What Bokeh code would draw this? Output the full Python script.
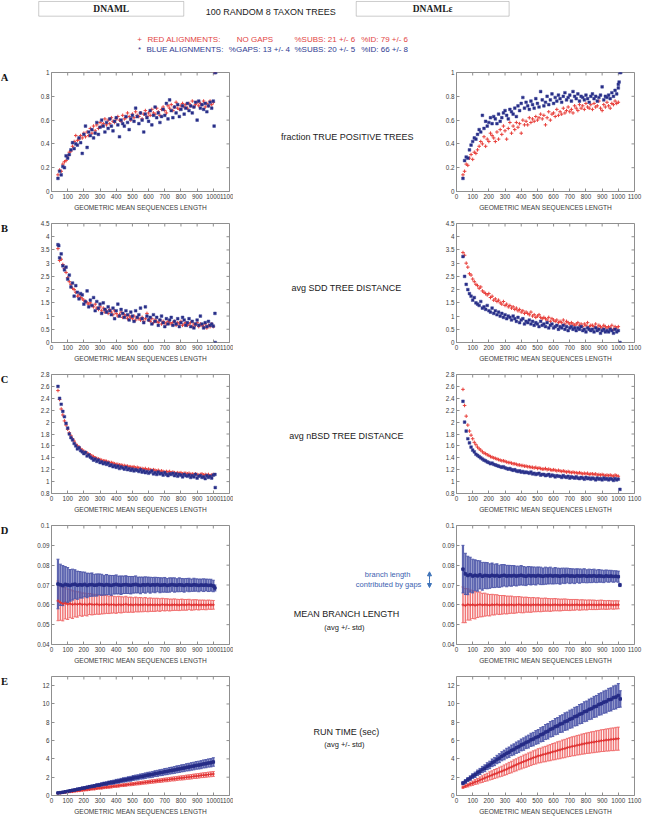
import math
from bokeh.plotting import figure
from bokeh.layouts import column, row
from bokeh.models import (Range1d, LinearAxis, FixedTicker, Label, ColumnDataSource,
                          Whisker, TeeHead, Arrow, NormalHead, BoxAnnotation)
from bokeh.embed import file_html
from bokeh.resources import INLINE

# ---------------- data ----------------
X_TICKS = [0, 100, 200, 300, 400, 500, 600, 700, 800, 900, 1000, 1100]
YT_A = [0, 0.2, 0.4, 0.6, 0.8, 1]
YL_A = ["0", "0.2", "0.4", "0.6", "0.8", "1"]
YT_B = [0, 0.5, 1, 1.5, 2, 2.5, 3, 3.5, 4, 4.5]
YL_B = ["0", "0.5", "1", "1.5", "2", "2.5", "3", "3.5", "4", "4.5"]
YT_C = [0.8, 1, 1.2, 1.4, 1.6, 1.8, 2, 2.2, 2.4, 2.6, 2.8]
YL_C = ["0.8", "1", "1.2", "1.4", "1.6", "1.8", "2", "2.2", "2.4", "2.6", "2.8"]
YT_D = [0.04, 0.05, 0.06, 0.07, 0.08, 0.09, 0.1]
YL_D = ["0.04", "0.05", "0.06", "0.07", "0.08", "0.09", "0.1"]
YT_E = [0, 2, 4, 6, 8, 10, 12]
YL_E = ["0", "2", "4", "6", "8", "10", "12"]

XS = [40, 50, 60, 70, 80, 90, 100, 110, 120, 130,
      140, 150, 160, 170, 180, 190, 200, 210, 220, 230,
      240, 250, 260, 270, 280, 290, 300, 310, 320, 330,
      340, 350, 360, 370, 380, 390, 400, 410, 420, 430,
      440, 450, 460, 470, 480, 490, 500, 510, 520, 530,
      540, 550, 560, 570, 580, 590, 600, 610, 620, 630,
      640, 650, 660, 670, 680, 690, 700, 710, 720, 730,
      740, 750, 760, 770, 780, 790, 800, 810, 820, 830,
      840, 850, 860, 870, 880, 890, 900, 910, 920, 930,
      940, 950, 960, 970, 980, 990, 1000]

A_L_BLUE = [.11, .17, .14, .21, .20, .30, .28, .31, .35, .41,
            .36, .40, .39, .45, .41, .32, .48, .55, .37, .50,
            .47, .52, .45, .49, .58, .48, .54, .60, .55, .50,
            .58, .53, .61, .55, .51, .59, .62, .56, .46, .60,
            .57, .55, .63, .58, .52, .61, .64, .59, .70, .63,
            .57, .66, .60, .50, .65, .62, .59, .68, .56, .64,
            .71, .62, .66, .58, .63, .69, .64, .74, .61, .77,
            .68, .62, .71, .66, .73, .63, .69, .72, .65, .70,
            .74, .68, .72, .66, .71, .75, .60, .76, .70, .73,
            .69, .74, .67, .72, .75, .70, .76]
A_L_RED = [.14, .18, .17, .23, .25, .26, .30, .33, .34, .38,
           .42, .47, .43, .44, .47, .45, .49, .46, .50, .47,
           .53, .49, .55, .51, .56, .53, .58, .55, .57, .61,
           .56, .60, .57, .62, .59, .58, .61, .63, .60, .59,
           .64, .61, .62, .66, .63, .60, .65, .62, .67, .64,
           .63, .66, .61, .65, .68, .63, .66, .64, .69, .66,
           .65, .70, .67, .64, .69, .71, .68, .66, .72, .70,
           .73, .68, .71, .75, .70, .69, .72, .74, .71, .73,
           .70, .74, .72, .76, .71, .73, .75, .72, .74, .73,
           .76, .71, .74, .72, .76, .73, .75]
A_L_BLUE_XX = [1005, 1010, 1015]
A_L_BLUE_XY = [0.55, 1.0, 1.0]
A_L_RED_XX = [1010]
A_L_RED_XY = [1.0]

A_R_BLUE = [.11, .26, .29, .28, .35, .39, .42, .45, .44, .48,
            .52, .50, .64, .53, .59, .55, .58, .62, .57, .63,
            .61, .57, .65, .59, .62, .66, .68, .64, .61, .69,
            .67, .65, .70, .63, .72, .68, .74, .79, .70, .75,
            .72, .69, .76, .73, .70, .78, .74, .71, .84, .77,
            .72, .75, .80, .73, .77, .82, .74, .79, .76, .81,
            .78, .75, .80, .83, .77, .79, .81, .76, .84, .80,
            .78, .82, .76, .80, .79, .77, .81, .78, .75, .80,
            .82, .78, .80, .76, .79, .81, .88, .77, .80, .79,
            .81, .78, .83, .80, .85, .82, .87]
A_R_RED = [.14, .17, .23, .22, .28, .31, .27, .33, .32, .35,
           .38, .42, .40, .46, .38, .44, .42, .49, .47, .45,
           .42, .50, .44, .52, .48, .55, .51, .44, .53, .58,
           .49, .55, .52, .58, .54, .57, .49, .60, .56, .59,
           .56, .62, .58, .61, .59, .63, .60, .62, .65, .61,
           .64, .56, .62, .67, .60, .65, .66, .63, .69, .64,
           .67, .65, .70, .66, .68, .71, .67, .69, .66, .72,
           .70, .68, .73, .70, .72, .69, .74, .71, .70, .73,
           .69, .74, .71, .72, .76, .70, .68, .73, .71, .75,
           .72, .70, .74, .73, .76, .74, .75]
A_R_BLUE_XX = [1000, 1005, 1010, 1015]
A_R_BLUE_XY = [0.90, 0.92, 1.0, 1.0]

B_L_BLUE = [3.70, 3.20, 3.35, 2.90, 2.75, 2.85, 2.40, 2.55, 2.10, 2.25,
            1.75, 2.15, 1.90, 1.65, 1.85, 1.80, 1.45, 1.55, 1.95, 1.35,
            1.60, 1.40, 1.70, 1.20, 1.55, 1.30, 1.45, 1.10, 1.50, 1.25,
            1.15, 1.35, 1.20, 1.05, 1.30, 0.90, 1.20, 1.45, 1.00, 1.25,
            1.10, 0.95, 1.20, 1.05, 0.85, 1.15, 1.00, 0.80, 1.20, 0.95,
            1.05, 1.30, 0.90, 0.75, 1.35, 1.00, 0.85, 0.95, 0.70, 1.05,
            0.80, 0.95, 0.65, 0.85, 1.00, 0.75, 0.60, 0.90, 0.70, 0.85,
            0.95, 0.65, 0.80, 0.70, 0.90, 0.60, 0.75, 0.95, 0.85, 0.65,
            0.75, 0.90, 0.60, 0.80, 0.55, 0.70, 0.85, 0.65, 1.00, 0.70,
            0.55, 0.75, 0.60, 0.80, 0.65, 0.70, 0.62]
B_L_RED = [3.55, 3.10, 3.15, 2.95, 2.80, 2.65, 2.45, 2.30, 2.20, 2.05,
           2.00, 1.90, 1.75, 1.80, 1.70, 1.65, 1.60, 1.55, 1.50, 1.45,
           1.50, 1.40, 1.35, 1.45, 1.30, 1.25, 1.35, 1.20, 1.30, 1.15,
           1.20, 1.10, 1.25, 1.15, 1.05, 1.20, 1.10, 1.00, 1.05, 1.15,
           0.95, 1.05, 1.00, 0.90, 1.00, 0.95, 0.90, 1.00, 0.85, 0.95,
           0.90, 0.85, 0.95, 0.80, 0.90, 1.10, 0.85, 0.80, 0.90, 0.75,
           0.85, 0.80, 0.75, 0.85, 0.70, 0.80, 0.75, 0.70, 0.80, 0.75,
           0.70, 0.75, 0.80, 0.65, 0.75, 0.70, 0.80, 0.65, 0.70, 0.75,
           0.65, 0.70, 0.75, 0.60, 0.70, 0.65, 0.75, 0.60, 0.70, 0.65,
           0.60, 0.70, 0.55, 0.65, 0.60, 0.70, 0.60]
B_L_BLUE_XX = [45, 1010, 1012]
B_L_BLUE_XY = [3.66, 1.10, 0.0]

B_R_RED = [3.40, 3.30, 3.00, 2.85, 2.60, 2.55, 2.40, 2.30, 2.20, 2.15,
           2.05, 2.10, 1.95, 1.90, 1.85, 1.80, 1.85, 1.70, 1.75, 1.60,
           1.65, 1.55, 1.60, 1.50, 1.45, 1.55, 1.40, 1.45, 1.35, 1.40,
           1.30, 1.35, 1.25, 1.30, 1.20, 1.25, 1.15, 1.20, 1.10, 1.15,
           1.10, 1.05, 1.15, 1.00, 1.05, 0.95, 1.00, 1.05, 0.95, 0.90,
           0.95, 0.90, 0.85, 0.95, 0.80, 0.90, 0.85, 0.80, 0.85, 0.75,
           0.80, 0.75, 0.85, 0.70, 0.80, 0.75, 0.70, 0.75, 0.70, 0.65,
           0.70, 0.75, 0.65, 0.70, 0.60, 0.70, 0.65, 0.75, 0.60, 0.65,
           0.65, 0.60, 0.70, 0.55, 0.65, 0.60, 0.55, 0.65, 0.60, 0.55,
           0.60, 0.55, 0.65, 0.50, 0.60, 0.55, 0.60]
B_R_BLUE = [3.25, 2.50, 2.20, 2.00, 1.85, 1.75, 1.60, 1.70, 1.50, 1.45,
            1.40, 1.55, 1.30, 1.35, 1.25, 1.40, 1.20, 1.15, 1.30, 1.10,
            1.20, 1.05, 1.15, 1.00, 1.10, 0.95, 1.05, 0.90, 1.00, 0.95,
            0.85, 1.00, 0.90, 0.80, 0.95, 0.75, 0.85, 0.90, 0.70, 0.80,
            0.75, 0.85, 0.70, 0.80, 0.65, 0.75, 0.70, 0.60, 0.80, 0.65,
            0.70, 0.60, 0.75, 0.55, 0.65, 0.70, 0.55, 0.60, 0.65, 0.50,
            0.60, 0.55, 0.65, 0.50, 0.60, 0.45, 0.55, 0.60, 0.50, 0.55,
            0.45, 0.55, 0.50, 0.60, 0.45, 0.50, 0.40, 0.55, 0.50, 0.45,
            0.50, 0.40, 0.55, 0.45, 0.50, 0.35, 0.45, 0.50, 0.40, 0.45,
            0.40, 0.50, 0.45, 0.35, 0.50, 0.40, 0.45]
B_R_BLUE_XX = [1010]
B_R_BLUE_XY = [0.0]

C_L_RED = [2.53, 2.38, 2.22, 2.12, 2.02, 1.95, 1.88, 1.82, 1.77, 1.72,
           1.68, 1.63, 1.60, 1.58, 1.55, 1.53, 1.51, 1.49, 1.48, 1.46,
           1.45, 1.43, 1.42, 1.40, 1.39, 1.38, 1.37, 1.36, 1.35, 1.35,
           1.34, 1.33, 1.32, 1.32, 1.31, 1.30, 1.29, 1.29, 1.28, 1.28,
           1.27, 1.27, 1.26, 1.26, 1.25, 1.25, 1.24, 1.25, 1.23, 1.24,
           1.23, 1.22, 1.22, 1.21, 1.22, 1.20, 1.21, 1.20, 1.19, 1.20,
           1.19, 1.18, 1.19, 1.17, 1.18, 1.17, 1.16, 1.17, 1.16, 1.17,
           1.15, 1.16, 1.15, 1.14, 1.15, 1.14, 1.15, 1.13, 1.14, 1.14,
           1.13, 1.14, 1.12, 1.13, 1.12, 1.13, 1.12, 1.11, 1.12, 1.13,
           1.11, 1.12, 1.11, 1.12, 1.10, 1.11, 1.12]
C_L_BLUE = [2.60, 2.40, 2.30, 2.18, 2.09, 1.98, 1.90, 1.80, 1.74, 1.70,
            1.64, 1.60, 1.55, 1.57, 1.52, 1.50, 1.47, 1.49, 1.43, 1.45,
            1.41, 1.39, 1.36, 1.38, 1.34, 1.36, 1.32, 1.33, 1.30, 1.32,
            1.29, 1.31, 1.27, 1.28, 1.25, 1.27, 1.24, 1.26, 1.22, 1.25,
            1.23, 1.21, 1.24, 1.20, 1.22, 1.19, 1.21, 1.18, 1.20, 1.19,
            1.17, 1.20, 1.16, 1.18, 1.15, 1.17, 1.14, 1.16, 1.18, 1.13,
            1.15, 1.12, 1.16, 1.13, 1.14, 1.11, 1.15, 1.12, 1.10, 1.13,
            1.12, 1.14, 1.10, 1.13, 1.09, 1.12, 1.11, 1.08, 1.12, 1.10,
            1.09, 1.11, 1.07, 1.10, 1.08, 1.12, 1.06, 1.09, 1.10, 1.07,
            1.08, 1.05, 1.10, 1.07, 1.09, 1.06, 1.11]
C_L_BLUE_XX = [1010, 1012]
C_L_BLUE_XY = [1.12, 0.90]

C_R_RED = [2.55, 2.28, 2.10, 1.95, 1.85, 1.78, 1.72, 1.66, 1.62, 1.58,
           1.55, 1.53, 1.50, 1.48, 1.47, 1.45, 1.44, 1.42, 1.41, 1.40,
           1.39, 1.38, 1.37, 1.36, 1.35, 1.35, 1.34, 1.33, 1.32, 1.32,
           1.31, 1.30, 1.30, 1.29, 1.28, 1.28, 1.27, 1.27, 1.26, 1.26,
           1.25, 1.25, 1.24, 1.24, 1.23, 1.24, 1.22, 1.23, 1.22, 1.21,
           1.21, 1.22, 1.20, 1.21, 1.20, 1.19, 1.20, 1.19, 1.18, 1.19,
           1.18, 1.17, 1.18, 1.17, 1.16, 1.17, 1.16, 1.15, 1.16, 1.15,
           1.15, 1.14, 1.15, 1.14, 1.13, 1.14, 1.13, 1.14, 1.12, 1.13,
           1.13, 1.12, 1.13, 1.11, 1.12, 1.11, 1.12, 1.11, 1.10, 1.11,
           1.10, 1.11, 1.10, 1.09, 1.11, 1.10, 1.09]
C_R_BLUE = [2.35, 2.00, 1.85, 1.72, 1.65, 1.58, 1.53, 1.50, 1.46, 1.44,
            1.42, 1.40, 1.38, 1.36, 1.35, 1.33, 1.32, 1.30, 1.31, 1.29,
            1.28, 1.27, 1.26, 1.25, 1.24, 1.25, 1.23, 1.22, 1.21, 1.22,
            1.20, 1.19, 1.20, 1.18, 1.17, 1.18, 1.16, 1.17, 1.15, 1.16,
            1.15, 1.14, 1.16, 1.13, 1.14, 1.12, 1.13, 1.14, 1.11, 1.12,
            1.12, 1.10, 1.11, 1.12, 1.09, 1.11, 1.10, 1.08, 1.10, 1.09,
            1.09, 1.07, 1.10, 1.08, 1.07, 1.09, 1.06, 1.08, 1.07, 1.06,
            1.08, 1.06, 1.05, 1.07, 1.06, 1.04, 1.07, 1.05, 1.06, 1.04,
            1.06, 1.05, 1.03, 1.06, 1.04, 1.05, 1.03, 1.06, 1.04, 1.05,
            1.03, 1.05, 1.04, 1.02, 1.05, 1.03, 1.04]
C_R_BLUE_XX = [1010]
C_R_BLUE_XY = [0.87]

XD = [40, 55, 70, 85, 100, 115, 130, 145, 160, 175,
      190, 205, 220, 235, 250, 265, 280, 295, 310, 325,
      340, 355, 370, 385, 400, 415, 430, 445, 460, 475,
      490, 505, 520, 535, 550, 565, 580, 595, 610, 625,
      640, 655, 670, 685, 700, 715, 730, 745, 760, 775,
      790, 805, 820, 835, 850, 865, 880, 895, 910, 925,
      940, 955, 970, 985, 1000]

D_L_BLUE_M = [.0705, .0701, .0697, .0703, .0700, .0698, .0702, .0704, .0699, .0701,
              .0700, .0703, .0698, .0701, .0702, .0699, .0700, .0703, .0701, .0699,
              .0702, .0700, .0698, .0701, .0703, .0700, .0699, .0701, .0702, .0700,
              .0699, .0701, .0703, .0700, .0698, .0701, .0700, .0702, .0699, .0701,
              .0700, .0702, .0699, .0700, .0701, .0698, .0700, .0702, .0700, .0699,
              .0701, .0700, .0698, .0701, .0700, .0699, .0701, .0700, .0698, .0700,
              .0699, .0700, .0698, .0699, .0695]
D_L_BLUE_S = [.0125, .0104, .0101, .0090, .0088, .0080, .0078, .0073, .0071, .0067,
              .0066, .0062, .0062, .0058, .0059, .0055, .0056, .0053, .0053, .0050,
              .0051, .0049, .0050, .0047, .0048, .0045, .0047, .0044, .0045, .0043,
              .0044, .0042, .0043, .0040, .0042, .0039, .0041, .0038, .0040, .0037,
              .0039, .0036, .0038, .0036, .0037, .0035, .0036, .0034, .0036, .0033,
              .0035, .0033, .0034, .0032, .0034, .0031, .0033, .0031, .0032, .0030,
              .0032, .0030, .0031, .0030, .0029]
D_L_RED_M = [.0620, .0612, .0605, .0608, .0603, .0606, .0601, .0604, .0602, .0605,
             .0601, .0603, .0600, .0604, .0602, .0601, .0603, .0600, .0602, .0601,
             .0603, .0600, .0602, .0601, .0599, .0602, .0600, .0601, .0603, .0600,
             .0601, .0599, .0602, .0600, .0601, .0600, .0602, .0599, .0601, .0600,
             .0600, .0601, .0599, .0602, .0600, .0601, .0599, .0600, .0601, .0600,
             .0599, .0601, .0600, .0600, .0602, .0599, .0600, .0601, .0599, .0600,
             .0600, .0599, .0601, .0600, .0600]
D_L_RED_S = [.0100, .0090, .0086, .0079, .0077, .0071, .0070, .0065, .0064, .0060,
             .0059, .0056, .0056, .0053, .0053, .0050, .0050, .0048, .0048, .0046,
             .0046, .0044, .0044, .0042, .0042, .0041, .0041, .0039, .0040, .0038,
             .0038, .0037, .0037, .0036, .0036, .0035, .0035, .0034, .0034, .0033,
             .0033, .0032, .0032, .0031, .0031, .0030, .0030, .0029, .0029, .0028,
             .0028, .0028, .0027, .0027, .0026, .0026, .0026, .0025, .0025, .0024,
             .0024, .0024, .0023, .0023, .0022]
D_L_BLUE_XX = [1010]
D_L_BLUE_XM = [0.0685]
D_L_BLUE_XS = [0.0015]

D_R_BLUE_M = [.0780, .0756, .0748, .0752, .0745, .0749, .0746, .0751, .0744, .0748,
              .0747, .0745, .0749, .0746, .0748, .0744, .0747, .0749, .0745, .0747,
              .0746, .0748, .0745, .0747, .0749, .0746, .0744, .0748, .0746, .0747,
              .0745, .0748, .0746, .0744, .0747, .0746, .0748, .0745, .0747, .0746,
              .0744, .0747, .0746, .0748, .0745, .0746, .0744, .0747, .0745, .0746,
              .0747, .0744, .0746, .0745, .0747, .0744, .0746, .0745, .0743, .0746,
              .0744, .0745, .0743, .0744, .0742]
D_R_BLUE_S = [.0120, .0104, .0097, .0088, .0085, .0078, .0077, .0071, .0070, .0066,
              .0066, .0062, .0062, .0059, .0059, .0056, .0056, .0054, .0054, .0052,
              .0052, .0050, .0050, .0048, .0049, .0047, .0047, .0045, .0046, .0044,
              .0045, .0043, .0044, .0042, .0043, .0041, .0042, .0040, .0041, .0039,
              .0040, .0038, .0039, .0037, .0038, .0036, .0037, .0035, .0036, .0034,
              .0035, .0033, .0034, .0033, .0033, .0032, .0032, .0031, .0031, .0030,
              .0030, .0029, .0029, .0028, .0028]
D_R_RED_M = [.0600, .0596, .0602, .0599, .0601, .0598, .0600, .0602, .0599, .0601,
             .0600, .0598, .0601, .0600, .0602, .0599, .0600, .0601, .0599, .0600,
             .0601, .0599, .0600, .0602, .0600, .0599, .0601, .0600, .0599, .0601,
             .0600, .0601, .0599, .0600, .0601, .0600, .0599, .0600, .0601, .0600,
             .0599, .0600, .0601, .0600, .0599, .0600, .0600, .0601, .0599, .0600,
             .0600, .0599, .0601, .0600, .0600, .0599, .0600, .0601, .0600, .0599,
             .0600, .0600, .0599, .0600, .0600]
D_R_RED_S = [.0090, .0086, .0079, .0076, .0070, .0069, .0064, .0063, .0059, .0058,
             .0055, .0054, .0052, .0051, .0049, .0048, .0047, .0046, .0045, .0044,
             .0043, .0042, .0041, .0040, .0040, .0039, .0038, .0037, .0037, .0036,
             .0035, .0035, .0034, .0033, .0033, .0032, .0032, .0031, .0031, .0030,
             .0030, .0029, .0029, .0028, .0028, .0027, .0027, .0026, .0026, .0026,
             .0025, .0025, .0024, .0024, .0024, .0023, .0023, .0023, .0022, .0022,
             .0022, .0021, .0021, .0021, .0020]
D_R_BLUE_XX = [1010]
D_R_BLUE_XM = [0.0700]
D_R_BLUE_XS = [0.0008]

E_L_BLUE_M = [0.28, 0.31, 0.36, 0.40, 0.46, 0.51, 0.57, 0.61, 0.68, 0.72,
              0.79, 0.83, 0.89, 0.95, 0.99, 1.04, 1.11, 1.14, 1.21, 1.27,
              1.30, 1.38, 1.42, 1.46, 1.54, 1.57, 1.64, 1.70, 1.73, 1.80,
              1.83, 1.91, 1.96, 1.99, 2.07, 2.10, 2.17, 2.23, 2.26, 2.31,
              2.39, 2.42, 2.49, 2.52, 2.60, 2.63, 2.70, 2.74, 2.79, 2.86,
              2.90, 2.97, 3.00, 3.08, 3.11, 3.18, 3.22, 3.29, 3.32, 3.37,
              3.45, 3.48, 3.55, 3.58, 3.66]
E_L_BLUE_S = [.06, .07, .08, .08, .09, .10, .10, .11, .12, .12,
              .13, .14, .14, .15, .16, .16, .17, .18, .18, .19,
              .20, .20, .21, .22, .22, .23, .23, .24, .25, .25,
              .26, .27, .27, .28, .28, .29, .30, .30, .31, .32,
              .32, .33, .33, .34, .35, .35, .36, .36, .37, .38,
              .38, .39, .39, .40, .41, .41, .42, .42, .43, .44,
              .44, .45, .45, .46, .47]
E_L_RED_M = [0.24, 0.27, 0.31, 0.33, 0.37, 0.41, 0.43, 0.47, 0.51, 0.53,
             0.57, 0.61, 0.63, 0.67, 0.71, 0.73, 0.77, 0.81, 0.83, 0.87,
             0.91, 0.93, 0.96, 1.01, 1.03, 1.06, 1.11, 1.13, 1.16, 1.21,
             1.23, 1.26, 1.30, 1.33, 1.36, 1.40, 1.43, 1.46, 1.50, 1.53,
             1.56, 1.60, 1.62, 1.66, 1.70, 1.72, 1.76, 1.80, 1.82, 1.86,
             1.90, 1.92, 1.95, 2.00, 2.02, 2.05, 2.10, 2.12, 2.15, 2.20,
             2.22, 2.25, 2.29, 2.32, 2.35]
E_L_RED_S = [.05, .05, .06, .06, .07, .07, .07, .08, .08, .08,
             .09, .09, .10, .10, .10, .11, .11, .11, .12, .12,
             .12, .13, .13, .13, .14, .14, .14, .15, .15, .15,
             .16, .16, .16, .17, .17, .17, .18, .18, .18, .19,
             .19, .19, .20, .20, .20, .21, .21, .21, .22, .22,
             .22, .23, .23, .23, .24, .24, .24, .25, .25, .25,
             .26, .26, .26, .27, .27]

E_R_BLUE_M = [1.35, 1.53, 1.74, 1.90, 2.12, 2.26, 2.48, 2.63, 2.84, 2.98,
              3.20, 3.34, 3.57, 3.71, 3.93, 4.08, 4.29, 4.43, 4.62, 4.73,
              4.93, 5.03, 5.22, 5.33, 5.52, 5.62, 5.80, 5.89, 6.08, 6.16,
              6.34, 6.43, 6.63, 6.72, 6.93, 7.02, 7.23, 7.32, 7.52, 7.60,
              7.80, 7.87, 8.07, 8.14, 8.33, 8.41, 8.61, 8.68, 8.88, 8.95,
              9.15, 9.22, 9.41, 9.49, 9.68, 9.75, 9.95, 10.02, 10.20, 10.26,
              10.45, 10.50, 10.69, 10.75, 10.92]
E_R_BLUE_S = [.18, .21, .22, .25, .26, .29, .30, .33, .34, .37,
              .38, .41, .42, .45, .46, .49, .50, .53, .54, .57,
              .58, .61, .62, .64, .65, .68, .68, .71, .72, .74,
              .75, .77, .78, .81, .82, .85, .85, .88, .89, .91,
              .92, .95, .96, .98, .99, 1.02, 1.02, 1.05, 1.06, 1.08,
              1.09, 1.11, 1.12, 1.15, 1.15, 1.18, 1.18, 1.21, 1.22, 1.24,
              1.25, 1.27, 1.28, 1.30, 1.31]
E_R_RED_M = [0.90, 1.02, 1.11, 1.25, 1.34, 1.47, 1.56, 1.70, 1.79, 1.92,
             2.01, 2.14, 2.23, 2.35, 2.44, 2.56, 2.65, 2.77, 2.87, 3.01,
             3.11, 3.25, 3.35, 3.49, 3.59, 3.71, 3.80, 3.92, 4.01, 4.13,
             4.21, 4.33, 4.38, 4.48, 4.53, 4.63, 4.68, 4.78, 4.83, 4.93,
             4.98, 5.08, 5.13, 5.23, 5.29, 5.37, 5.41, 5.49, 5.53, 5.61,
             5.65, 5.72, 5.75, 5.81, 5.84, 5.90, 5.93, 5.99, 6.01, 6.06,
             6.08, 6.13, 6.14, 6.19, 6.21]
E_R_RED_S = [.12, .15, .18, .21, .24, .27, .30, .33, .36, .39,
             .42, .45, .47, .49, .51, .53, .55, .57, .59, .61,
             .63, .65, .66, .68, .69, .71, .72, .73, .74, .75,
             .77, .78, .80, .82, .84, .86, .88, .90, .92, .94,
             .96, .98, 1.00, 1.01, 1.03, 1.04, 1.06, 1.07, 1.08, 1.10,
             1.11, 1.12, 1.14, 1.15, 1.16, 1.17, 1.18, 1.19, 1.20, 1.21,
             1.22, 1.23, 1.24, 1.25, 1.26]
E_R_BLUE_XX = [1012]
E_R_BLUE_XM = [10.55]
E_R_BLUE_XS = [0.90]

# ---------------- style ----------------
FONT = "Liberation Sans"
SERIF = "Liberation Serif"
RED = "#e8403c"
BLUE = "#262c86"
RED_TXT = "#e2443f"
BLUE_TXT = "#2f3b92"
RED_BAR = "#f06868"
BLUE_BAR = "#4d55a8"
FRAME = "#8f8f8f"
TICK_TXT = "#3a3a3a"

FW, FH, TOPB = 178, 119, 7


def ref_x(x):
    return 8 + (x - 4) * 0.98


def ref_y(y):
    return 8 + y * 0.98


def make_panel(yr, yt, yl, lb, rb, bb):
    p = figure(width=lb + FW + rb, height=TOPB + FH + bb,
               x_range=Range1d(0, 1100), y_range=Range1d(*yr),
               output_backend="svg", toolbar_location=None,
               x_axis_location=None, y_axis_location=None,
               min_border_left=lb, min_border_right=rb,
               min_border_top=TOPB, min_border_bottom=bb)
    p.outline_line_color = FRAME
    p.outline_line_width = 1
    p.background_fill_color = "white"
    p.border_fill_color = "white"
    for g in p.grid:
        g.visible = False
    for loc in ("below", "left"):
        horiz = loc == "below"
        ax = LinearAxis(ticker=FixedTicker(ticks=X_TICKS if horiz else yt, minor_ticks=[]))
        ax.axis_line_color = None
        ax.major_tick_in = 3
        ax.major_tick_out = 0
        ax.major_tick_line_color = FRAME
        ax.minor_tick_line_color = None
        ax.major_label_text_font = FONT
        ax.major_label_text_color = TICK_TXT
        ax.major_label_text_font_size = "6.3px"
        ax.major_label_standoff = 2
        if not horiz:
            ax.major_label_overrides = dict(zip(yt, yl))
        else:
            ax.axis_label = "GEOMETRIC MEAN SEQUENCES LENGTH"
            ax.axis_label_text_font = FONT
            ax.axis_label_text_font_size = "6.6px"
            ax.axis_label_text_font_style = "normal"
            ax.axis_label_text_color = TICK_TXT
            ax.axis_label_standoff = 2
        p.add_layout(ax, loc)
    # inward ticks on the top and right edges of the frame
    p.ray(x=X_TICKS, y=[yr[1]] * len(X_TICKS), length=3, length_units="screen",
          angle=-math.pi / 2, line_color=FRAME, line_width=1)
    p.ray(x=[1100] * len(yt), y=yt, length=3, length_units="screen",
          angle=math.pi, line_color=FRAME, line_width=1)
    return p


def add_scatter(p, red, blue, bxx=None, bxy=None, rxx=None, rxy=None):
    p.scatter(XS, red, marker="cross", size=3.6, line_color=RED, line_width=1)
    if rxx:
        p.scatter(rxx, rxy, marker="cross", size=3.6, line_color=RED, line_width=1)
    p.scatter(XS, blue, marker="square", size=2.7, fill_color=BLUE, line_color="#3a4296", line_width=0.5)
    if bxx:
        p.scatter(bxx, bxy, marker="square", size=2.7, fill_color=BLUE, line_color="#3a4296", line_width=0.5)


def add_err(p, x, m, s, bar, width):
    lo = [a - b for a, b in zip(m, s)]
    hi = [a + b for a, b in zip(m, s)]
    src = ColumnDataSource(dict(x=x, lo=lo, hi=hi, m=m))
    w = Whisker(source=src, base="x", lower="lo", upper="hi", dimension="height",
                line_color=bar, line_width=width, line_alpha=0.9,
                upper_head=TeeHead(size=3, line_color=bar, line_width=1, line_alpha=0.9),
                lower_head=TeeHead(size=3, line_color=bar, line_width=1, line_alpha=0.9))
    p.add_layout(w)
    return src


def add_mean(p, src, col, marker, msize):
    p.line("x", "m", source=src, line_color=col, line_width=1.1)
    if marker == "square":
        p.scatter("x", "m", source=src, marker="square", size=msize, fill_color=col, line_color=col)
    else:
        p.scatter("x", "m", source=src, marker="cross", size=msize, line_color=col, line_width=1)


# ---------------- panels ----------------
LB_L, RB_L = 41, 4
LB_R, RB_R = 24, 10
BB, BB_LAST = 25, 22
RED_MEAN = "#e03535"

aL = make_panel((0, 1), YT_A, YL_A, LB_L, RB_L, BB)
add_scatter(aL, A_L_RED, A_L_BLUE, A_L_BLUE_XX, A_L_BLUE_XY, A_L_RED_XX, A_L_RED_XY)
aR = make_panel((0, 1), YT_A, YL_A, LB_R, RB_R, BB)
add_scatter(aR, A_R_RED, A_R_BLUE, A_R_BLUE_XX, A_R_BLUE_XY)

bL = make_panel((0, 4.5), YT_B, YL_B, LB_L, RB_L, BB)
add_scatter(bL, B_L_RED, B_L_BLUE, B_L_BLUE_XX, B_L_BLUE_XY)
bR = make_panel((0, 4.5), YT_B, YL_B, LB_R, RB_R, BB)
add_scatter(bR, B_R_RED, B_R_BLUE, B_R_BLUE_XX, B_R_BLUE_XY)

cL = make_panel((0.8, 2.8), YT_C, YL_C, LB_L, RB_L, BB)
add_scatter(cL, C_L_RED, C_L_BLUE, C_L_BLUE_XX, C_L_BLUE_XY)
cR = make_panel((0.8, 2.8), YT_C, YL_C, LB_R, RB_R, BB)
add_scatter(cR, C_R_RED, C_R_BLUE, C_R_BLUE_XX, C_R_BLUE_XY)

dL = make_panel((0.04, 0.1), YT_D, YL_D, LB_L, RB_L, BB)
s1 = add_err(dL, XD, D_L_RED_M, D_L_RED_S, RED_BAR, 1.5)
s2 = add_err(dL, XD, D_L_BLUE_M, D_L_BLUE_S, BLUE_BAR, 2.2)
s3 = add_err(dL, D_L_BLUE_XX, D_L_BLUE_XM, D_L_BLUE_XS, BLUE_BAR, 2.2)
add_mean(dL, s1, RED_MEAN, "cross", 3)
add_mean(dL, s2, BLUE, "square", 2.5)
dL.scatter("x", "m", source=s3, marker="square", size=2.5, fill_color=BLUE, line_color=BLUE)

dR = make_panel((0.04, 0.1), YT_D, YL_D, LB_R, RB_R, BB)
s1 = add_err(dR, XD, D_R_RED_M, D_R_RED_S, RED_BAR, 1.5)
s2 = add_err(dR, XD, D_R_BLUE_M, D_R_BLUE_S, BLUE_BAR, 2.2)
s3 = add_err(dR, D_R_BLUE_XX, D_R_BLUE_XM, D_R_BLUE_XS, BLUE_BAR, 2.2)
add_mean(dR, s1, RED_MEAN, "cross", 3)
add_mean(dR, s2, BLUE, "square", 2.5)
dR.scatter("x", "m", source=s3, marker="square", size=2.5, fill_color=BLUE, line_color=BLUE)

eL = make_panel((0, 13), YT_E, YL_E, LB_L, RB_L, BB_LAST)
s1 = add_err(eL, XD, E_L_RED_M, E_L_RED_S, RED_BAR, 1.5)
s2 = add_err(eL, XD, E_L_BLUE_M, E_L_BLUE_S, BLUE_BAR, 2.2)
add_mean(eL, s1, RED_MEAN, "cross", 3)
add_mean(eL, s2, BLUE, "square", 2.5)

eR = make_panel((0, 13), YT_E, YL_E, LB_R, RB_R, BB_LAST)
s1 = add_err(eR, XD, E_R_RED_M, E_R_RED_S, RED_BAR, 1.5)
s2 = add_err(eR, XD, E_R_BLUE_M, E_R_BLUE_S, BLUE_BAR, 2.2)
s3 = add_err(eR, E_R_BLUE_XX, E_R_BLUE_XM, E_R_BLUE_XS, BLUE_BAR, 2.2)
add_mean(eR, s1, RED_MEAN, "cross", 3)
add_mean(eR, s2, BLUE, "square", 2.5)
eR.scatter("x", "m", source=s3, marker="square", size=2.5, fill_color=BLUE, line_color=BLUE)

# ---------------- header ----------------
HEAD_H = 65
TOTAL_W = 644
head = figure(width=TOTAL_W, height=HEAD_H, x_range=Range1d(8, 8 + TOTAL_W),
              y_range=Range1d(8 + HEAD_H, 8), output_backend="svg", toolbar_location=None,
              x_axis_location=None, y_axis_location=None, min_border=0)
head.outline_line_color = None
for g in head.grid:
    g.visible = False

head.add_layout(BoxAnnotation(left=ref_x(43), right=ref_x(191), top=ref_y(1), bottom=ref_y(16),
                              fill_color="white", fill_alpha=1, line_color="#555555", line_width=1))
head.add_layout(BoxAnnotation(left=ref_x(367), right=ref_x(523), top=ref_y(1), bottom=ref_y(16),
                              fill_color="white", fill_alpha=1, line_color="#555555", line_width=1))


def hlabel(fig, x, y, text, size, color="#222222", font=FONT, style="normal", align="left"):
    fig.add_layout(Label(x=x, y=y, text=text, text_font=font, text_font_size=size,
                         text_font_style=style, text_color=color, text_align=align,
                         text_baseline="middle"))


hlabel(head, ref_x(117), ref_y(9), "DNAML", "9.5px", "#222222", SERIF, "bold", "center")
hlabel(head, ref_x(445), ref_y(9), "DNAMLε", "9.5px", "#222222", SERIF, "bold", "center")
hlabel(head, ref_x(280), ref_y(11.5), "100 RANDOM 8 TAXON TREES", "9px", "#222222", FONT, "normal", "center")

hlabel(head, ref_x(146), ref_y(39.5), "+", "8px", RED_TXT, FONT, "normal", "center")
hlabel(head, ref_x(154), ref_y(39.5), "RED  ALIGNMENTS:", "8px", RED_TXT)
hlabel(head, ref_x(245), ref_y(39.5), "NO GAPS", "8px", RED_TXT)
hlabel(head, ref_x(304), ref_y(39.5), "%SUBS: 21 +/- 6", "8px", RED_TXT)
hlabel(head, ref_x(372), ref_y(39.5), "%ID: 79 +/- 6", "8px", RED_TXT)
hlabel(head, ref_x(146), ref_y(50.5), "*", "8px", BLUE_TXT, FONT, "normal", "center")
hlabel(head, ref_x(153), ref_y(49.5), "BLUE ALIGNMENTS:", "8px", BLUE_TXT)
hlabel(head, ref_x(237), ref_y(49.5), "%GAPS: 13 +/- 4", "8px", BLUE_TXT)
hlabel(head, ref_x(304), ref_y(49.5), "%SUBS: 20 +/- 5", "8px", BLUE_TXT)
hlabel(head, ref_x(372), ref_y(49.5), "%ID: 66 +/- 8", "8px", BLUE_TXT)

# ---------------- letters column ----------------
BODY_H = 4 * (TOPB + FH + BB) + (TOPB + FH + BB_LAST)
Y0 = 8 + HEAD_H
letters = figure(width=10, height=BODY_H, x_range=Range1d(8, 18), y_range=Range1d(Y0 + BODY_H, Y0),
                 output_backend="svg", toolbar_location=None,
                 x_axis_location=None, y_axis_location=None, min_border=0)
letters.outline_line_color = None
for g in letters.grid:
    g.visible = False
PERIOD = TOPB + FH + BB
for i, L in enumerate(["A", "B", "C", "D", "E"]):
    hlabel(letters, 12, Y0 + TOPB + i * PERIOD + 5, L, "10.5px", "#111111", SERIF, "bold", "center")

# ---------------- middle column ----------------
LEFT_W = LB_L + FW + RB_L
MID_X0 = 18 + LEFT_W
RIGHT_W = LB_R + FW + RB_R
MID_W = TOTAL_W - 10 - LEFT_W - RIGHT_W
mid = figure(width=MID_W, height=BODY_H, x_range=Range1d(MID_X0, MID_X0 + MID_W),
             y_range=Range1d(Y0 + BODY_H, Y0), output_backend="svg", toolbar_location=None,
             x_axis_location=None, y_axis_location=None, min_border=0)
mid.outline_line_color = None
for g in mid.grid:
    g.visible = False

CX = ref_x(357)
hlabel(mid, ref_x(358), ref_y(139), "fraction TRUE POSITIVE TREES", "9px", "#222222", FONT, "normal", "center")
hlabel(mid, CX, ref_y(293), "avg SDD TREE DISTANCE", "9px", "#222222", FONT, "normal", "center")
hlabel(mid, CX, ref_y(444), "avg nBSD TREE DISTANCE", "9px", "#222222", FONT, "normal", "center")
hlabel(mid, ref_x(399), ref_y(586), "branch length", "7.5px", "#3d62b0", FONT, "normal", "center")
hlabel(mid, ref_x(400), ref_y(596), "contributed by gaps", "7.5px", "#3d62b0", FONT, "normal", "center")
hlabel(mid, CX, ref_y(626), "MEAN BRANCH LENGTH", "9px", "#222222", FONT, "normal", "center")
hlabel(mid, CX, ref_y(640), "(avg  +/-  std)", "7.5px", "#222222", FONT, "normal", "center")
hlabel(mid, CX, ref_y(746), "RUN TIME (sec)", "9px", "#222222", FONT, "normal", "center")
hlabel(mid, CX, ref_y(759), "(avg  +/-  std)", "7.5px", "#222222", FONT, "normal", "center")
ax_x = MID_X0 + MID_W - 3
mid.add_layout(Arrow(x_start=ax_x, y_start=ref_y(591), x_end=ax_x, y_end=ref_y(583),
                     line_color="#3d72b8", line_width=1,
                     end=NormalHead(size=4, fill_color="#3d72b8", line_color="#3d72b8")))
mid.add_layout(Arrow(x_start=ax_x, y_start=ref_y(591), x_end=ax_x, y_end=ref_y(599),
                     line_color="#3d72b8", line_width=1,
                     end=NormalHead(size=4, fill_color="#3d72b8", line_color="#3d72b8")))

layout = column(head,
                row(letters,
                    column(aL, bL, cL, dL, eL),
                    mid,
                    column(aR, bR, cR, dR, eR)))

open("out.html", "w").write(file_html(layout, INLINE))
